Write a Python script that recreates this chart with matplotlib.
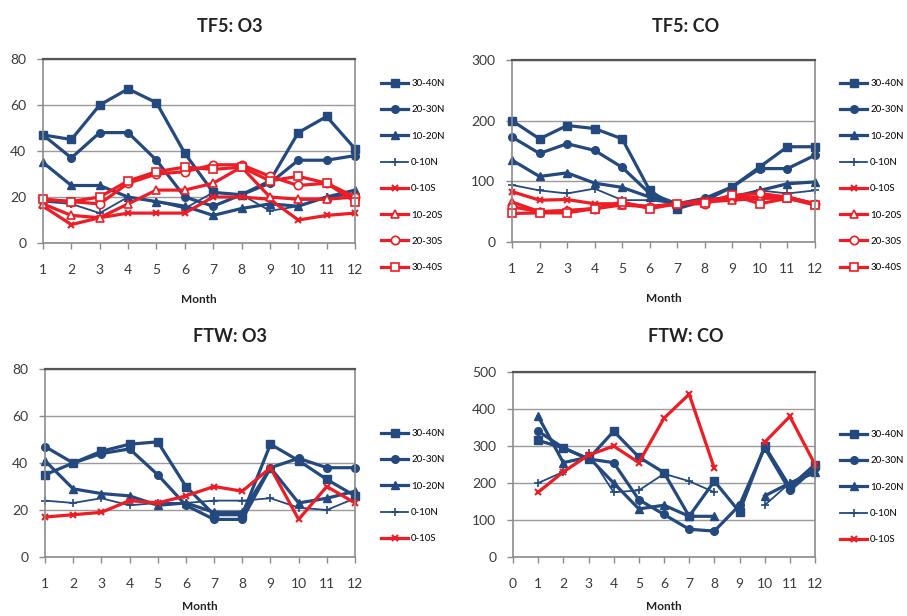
import numpy as np
import matplotlib
matplotlib.use('Agg')
import matplotlib.pyplot as plt

plt.rcParams['font.family'] = ['Lato', 'DejaVu Sans']

# ---------------------------------------------------------------------------
# Data
# ---------------------------------------------------------------------------
months = np.arange(1, 13)
nan = np.nan

north_bands = ['30-40N', '20-30N', '10-20N', '0-10N']
south_bands = ['0-10S', '10-20S', '20-30S', '30-40S']

# TF5: O3
tf5_o3_30_40n = [47, 45, 60, 67, 61, 39, 22, 21, 27, 48, 55, 41]
tf5_o3_20_30n = [47, 37, 48, 48, 36, 20, 16, 21, 26, 36, 36, 38]
tf5_o3_10_20n = [35, 25, 25, 20, 18, 16, 12, 15, 17, 16, 20, 23]
tf5_o3_0_10n = [18, 17, 13, 20, 18, 15, 22, 21, 14, 16, 20, 21]
tf5_o3_0_10s = [16, 8, 11, 13, 13, 13, 20, 20, 19, 10, 12, 13]
tf5_o3_10_20s = [17, 12, 11, 17, 23, 23, 26, 33, 20, 19, 19, 20]
tf5_o3_20_30s = [19, 18, 17, 26, 30, 31, 34, 34, 29, 25, 26, 20]
tf5_o3_30_40s = [19, 18, 20, 27, 31, 33, 32, 33, 27, 29, 26, 18]

# TF5: CO
tf5_co_30_40n = [200, 170, 192, 187, 170, 85, 55, 68, 91, 124, 157, 157]
tf5_co_20_30n = [173, 146, 162, 151, 123, 80, 63, 72, 91, 121, 121, 143]
tf5_co_10_20n = [135, 108, 114, 97, 90, 74, 63, 69, 74, 85, 96, 99]
tf5_co_0_10n = [94, 85, 80, 88, 69, 69, 63, 66, 74, 85, 80, 85]
tf5_co_0_10s = [83, 69, 70, 63, 63, 58, 63, 69, 74, 74, 74, 63]
tf5_co_10_20s = [66, 50, 52, 55, 61, 58, 63, 66, 69, 72, 72, 63]
tf5_co_20_30s = [58, 50, 51, 55, 63, 58, 63, 63, 77, 80, 74, 63]
tf5_co_30_40s = [47, 48, 48, 55, 66, 55, 63, 65, 77, 63, 72, 61]

# FTW: O3
ftw_o3_30_40n = [35, 40, 45, 48, 49, 30, 18, 18, 48, 41, 33, 26]
ftw_o3_20_30n = [47, 40, 44, 46, 35, 22, 16, 16, 38, 42, 38, 38]
ftw_o3_10_20n = [41, 29, 27, 26, 22, 23, 19, 19, 38, 23, 25, 28]
ftw_o3_0_10n = [24, 23, 25, 22, 23, 23, 24, 24, 25, 21, 20, 25]
ftw_o3_0_10s = [17, 18, 19, 24, 23, 26, 30, 28, 38, 16, 30, 23]

# FTW: CO (no value for some bands in month 9)
ftw_co_30_40n = [315, 295, 265, 340, 270, 228, 110, 205, 122, 300, 190, 250]
ftw_co_20_30n = [340, 295, 265, 255, 155, 115, 75, 70, 140, 295, 180, 240]
ftw_co_10_20n = [380, 255, 270, 200, 130, 140, 110, 110, nan, 165, 200, 230]
ftw_co_0_10n = [200, 230, 280, 175, 180, 225, 205, 175, nan, 140, 200, 225]
ftw_co_0_10s = [175, 230, 275, 300, 255, 375, 440, 240, nan, 310, 380, 250]

# ---------------------------------------------------------------------------
# Styles
# ---------------------------------------------------------------------------
BLUE = '#24497f'
RED = '#ee1c24'
W, H = 907, 616

styles = {
    '30-40N': dict(color=BLUE, marker='s', ms=5.5, lw=2.3, mfc=BLUE),
    '20-30N': dict(color=BLUE, marker='o', ms=5.5, lw=2.3, mfc=BLUE),
    '10-20N': dict(color=BLUE, marker='^', ms=5.5, lw=2.3, mfc=BLUE),
    '0-10N':  dict(color=BLUE, marker='+', ms=6, lw=1.3, mew=1.2),
    '0-10S':  dict(color=RED, marker='x', ms=5, lw=2.3, mew=1.5),
    '10-20S': dict(color=RED, marker='^', ms=6, lw=2.3, mfc='white', mew=1.2),
    '20-30S': dict(color=RED, marker='o', ms=6, lw=2.3, mfc='white', mew=1.2),
    '30-40S': dict(color=RED, marker='s', ms=6, lw=2.3, mfc='white', mew=1.2),
}

fig = plt.figure(figsize=(W / 100, H / 100), dpi=100)
fig.patch.set_facecolor('white')


def px_axes(left, top, right, bottom):
    return fig.add_axes([left / W, 1 - bottom / H, (right - left) / W, (bottom - top) / H])


def style_axes(ax, ymax, ystep, xmin, title, title_x, title_y, xlabel_pad=13):
    ax.set_ylim(0, ymax)
    ax.set_yticks(np.arange(0, ymax + 1, ystep))
    ax.set_xlim(xmin, 12)
    ax.set_xticks(np.arange(xmin, 13))
    ax.grid(axis='y', color='#9a9a9a', lw=1.0)
    ax.set_axisbelow(True)
    for side in ['left', 'right', 'bottom']:
        ax.spines[side].set_color('#8c8c8c')
        ax.spines[side].set_linewidth(1.2)
    ax.spines['top'].set_color('#555555')
    ax.spines['top'].set_linewidth(1.6)
    ax.tick_params(axis='both', colors='#8c8c8c', length=4, width=1,
                   labelcolor='#3a3a3a', labelsize=10)
    ax.tick_params(axis='x', pad=11)
    ax.tick_params(axis='y', pad=8)
    ax.set_xlabel('Month', fontsize=8.5, fontweight='bold', color='#222222',
                  labelpad=xlabel_pad)
    fig.text(title_x / W, 1 - title_y / H, title, ha='center', va='center',
             fontsize=13, fontweight='bold', color='#222222')


def draw(ax, x, series, labels):
    for y, lab in zip(series, labels):
        ax.plot(x, y, label=lab, clip_on=False, **styles[lab])


def add_legend(ax, x_px, y_px):
    handles, labels = ax.get_legend_handles_labels()
    fig.legend(handles, labels, loc='upper left',
               bbox_to_anchor=(x_px / W, 1 - y_px / H), bbox_transform=fig.transFigure,
               frameon=False, fontsize=7, handlelength=2.8, handletextpad=0.3,
               labelspacing=1.78, borderpad=0, borderaxespad=0)


# TF5: O3
ax1 = px_axes(43, 59, 355, 243)
draw(ax1, months,
     [tf5_o3_30_40n, tf5_o3_20_30n, tf5_o3_10_20n, tf5_o3_0_10n,
      tf5_o3_0_10s, tf5_o3_10_20s, tf5_o3_20_30s, tf5_o3_30_40s],
     north_bands + south_bands)
style_axes(ax1, 80, 20, 1, 'TF5: O3', 230, 27)
add_legend(ax1, 381, 79)

# TF5: CO
ax2 = px_axes(512, 60, 815, 242)
draw(ax2, months,
     [tf5_co_30_40n, tf5_co_20_30n, tf5_co_10_20n, tf5_co_0_10n,
      tf5_co_0_10s, tf5_co_10_20s, tf5_co_20_30s, tf5_co_30_40s],
     north_bands + south_bands)
style_axes(ax2, 300, 100, 1, 'TF5: CO', 686, 27)
add_legend(ax2, 840, 79)

# FTW: O3
ax3 = px_axes(45, 369, 355, 557)
draw(ax3, months,
     [ftw_o3_30_40n, ftw_o3_20_30n, ftw_o3_10_20n, ftw_o3_0_10n, ftw_o3_0_10s],
     north_bands + south_bands[:1])
style_axes(ax3, 80, 20, 1, 'FTW: O3', 230, 337, xlabel_pad=8)
add_legend(ax3, 381, 429)

# FTW: CO
ax4 = px_axes(513, 372, 815, 557)
draw(ax4, months,
     [ftw_co_30_40n, ftw_co_20_30n, ftw_co_10_20n, ftw_co_0_10n, ftw_co_0_10s],
     north_bands + south_bands[:1])
style_axes(ax4, 500, 100, 0, 'FTW: CO', 686, 337, xlabel_pad=8)
add_legend(ax4, 840, 430)

plt.savefig('out.png', dpi=100, facecolor=fig.get_facecolor())
plt.close()
